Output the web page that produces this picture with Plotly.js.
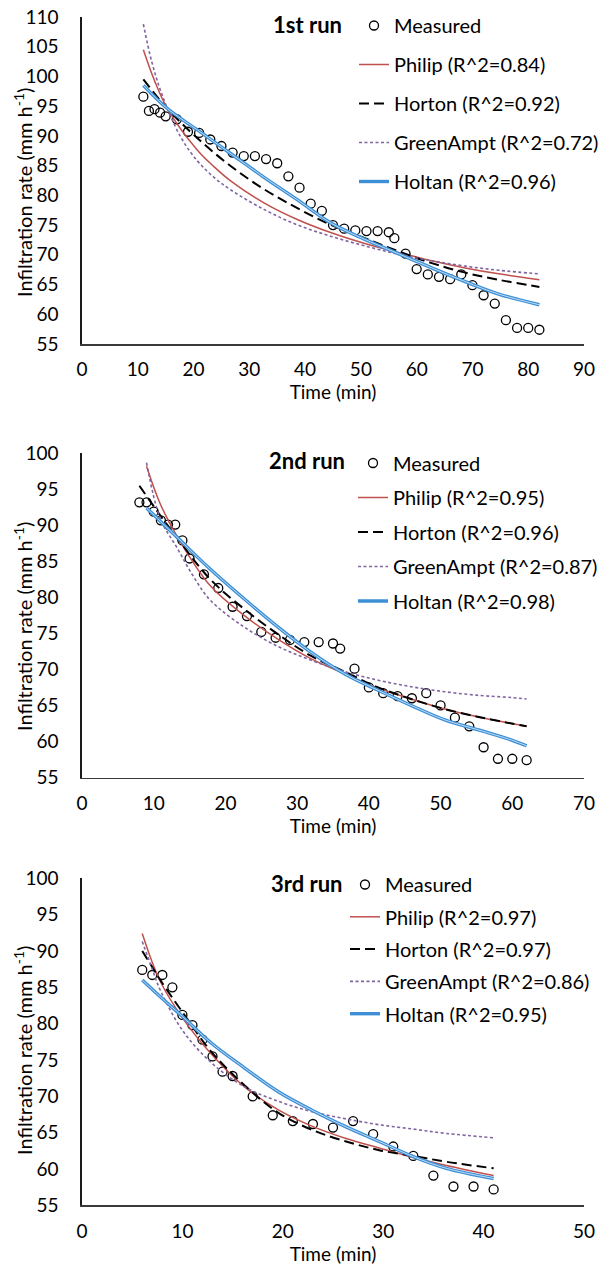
<!DOCTYPE html>
<html>
<head>
<meta charset="utf-8">
<script src="https://cdn.plot.ly/plotly-3.0.1.min.js"></script>
<style>
  html, body { margin: 0; padding: 0; background: #ffffff; }
  #chart { width: 605px; height: 1270px; }
</style>
</head>
<body>
<div id="chart"></div>
<script>
// ---------------- data ----------------
// Run 1
var time1 = [11,12,13,14,15,17,19,21,23,25,27,29,31,33,35,37,39,41,43,45,47,49,51,53,55,56,58,60,62,64,66,68,70,72,74,76,78,80,82];
var measured1 = [96.6,94.2,94.5,93.9,93.3,92.8,90.7,90.5,89.4,88.3,87.2,86.6,86.6,86.1,85.4,83.2,81.3,78.6,77.4,75.0,74.4,74.1,74.0,74.0,73.8,72.8,70.2,67.6,66.7,66.3,65.9,66.7,64.9,63.2,61.8,59.0,57.7,57.7,57.4];
var philipT1 = [11,13,15.3,20.7,23.7,26.7,32.7,38.7,44.7,50.7,56.7,62.7,68.7,74.7,82];
var philip1 = [104.5,99.3,94.6,87.6,84.8,82.4,78.7,75.9,73.7,71.9,70.4,69.0,67.8,66.8,65.8];
var hortonT1 = [11,15.3,20.7,26.7,32.7,38.7,44.7,50.7,56.7,62.7,68.7,74.7,82];
var horton1 = [99.5,94.6,89.6,84.9,81.0,77.8,75.0,72.8,70.6,68.6,67.0,65.8,64.6];
var greenT1 = [11,12.5,14.4,17.7,20.7,23.7,26.7,32.7,38.7,44.7,50.7,56.7,62.7,68.7,74.7,82];
var green1 = [108.8,102.5,96.8,89.8,85.8,83.0,80.9,77.6,75.0,73.1,71.5,70.1,69.0,68.1,67.4,66.8];
var holtanT1 = [11,15.3,20.7,26.7,32.7,38.7,44.7,50.7,56.7,62.7,68.7,74.7,82];
var holtan1 = [98.5,94.6,91.0,87.0,83.0,79.2,75.3,72.6,70.2,67.8,65.5,63.4,61.6];
var r2Run1 = ["0.84","0.92","0.72","0.96"];

// Run 2
var time2 = [8,9,10,11,12,13,14,15,17,19,21,23,25,27,29,31,33,35,36,38,40,42,44,46,48,50,52,54,56,58,60,62];
var measured2 = [93.2,93.2,91.9,90.7,90.1,90.1,87.9,85.4,83.2,81.3,78.7,77.4,75.2,74.4,74.1,73.8,73.8,73.6,72.9,70.1,67.5,66.7,66.3,66.0,66.7,65.0,63.3,62.1,59.2,57.6,57.6,57.4];
var philipT2 = [9,10.9,13.3,17.9,22.6,27.3,31.9,36.6,41.3,45.9,50.6,55.3,59.9,62];
var philip2 = [98.2,93.0,88.4,81.6,77.5,74.2,71.5,69.4,67.4,65.9,64.5,63.4,62.5,62.1];
var hortonT2 = [8,10.9,13.3,17.9,22.6,27.3,31.9,36.6,41.3,45.9,50.6,55.3,59.9,62];
var horton2 = [95.5,91.4,88.2,82.5,78.4,74.9,71.9,69.7,67.5,65.9,64.5,63.4,62.5,62.1];
var greenT2 = [9,10.9,13.3,15.6,17.9,22.6,27.3,31.9,36.6,41.3,45.9,50.6,55.3,59.9,62];
var green2 = [98.7,91.0,86.8,82.8,79.6,75.9,73.2,71.3,69.7,68.5,67.6,66.9,66.4,66.1,65.9];
var holtanT2 = [9,10.9,13.3,17.9,22.6,27.3,31.9,36.6,41.3,45.9,50.6,55.3,59.9,62];
var holtan2 = [92.4,90.6,88.3,83.9,79.8,75.9,72.4,69.4,67.1,65.0,63.0,61.6,60.2,59.4];
var r2Run2 = ["0.95","0.96","0.87","0.98"];

// Run 3
var time3 = [6,7,8,9,10,11,12,13,14,15,17,19,21,23,25,27,29,31,33,35,37,39,41];
var measured3 = [87.4,86.7,86.7,85.0,81.2,79.8,77.8,75.5,73.4,72.8,70.0,67.4,66.6,66.2,65.7,66.6,64.8,63.1,61.8,59.1,57.6,57.6,57.2];
var philipT3 = [6,6.9,7.8,10,12.9,16.2,19.6,22.9,26.3,29.6,33,36.3,41];
var philip3 = [92.4,88.8,85.8,80.8,75.8,71.3,68.1,65.9,64.2,62.9,61.6,60.5,59.1];
var hortonT3 = [6,6.9,7.8,10,12.9,16.2,19.6,22.9,26.3,29.6,33,36.3,41];
var horton3 = [90.0,88.0,86.0,81.6,76.1,71.5,67.7,65.4,63.8,62.6,61.8,61.0,60.1];
var greenT3 = [6,7,7.8,10,12.9,16.2,19.6,22.9,26.3,29.6,33,36.3,41];
var green3 = [91.3,87.5,84.6,79.1,74.6,71.3,69.3,67.9,66.9,66.1,65.5,64.9,64.3];
var holtanT3 = [6,7.8,10,12.9,16.2,19.6,22.9,26.3,29.6,33,36.3,41];
var holtan3 = [86.0,83.7,81.0,77.3,73.9,70.6,68.1,65.8,63.8,61.7,60.1,58.7];
var r2Run3 = ["0.97","0.97","0.86","0.95"];

var runLabels = ["1st run","2nd run","3rd run"];
var yTitle = "Infiltration rate (mm h<sup>-1</sup>)";
var xTitle = "Time (min)";
var xMax = [90, 70, 50];
var yMin = [55, 55, 55];
var yMax = [110, 100, 100];
var yTicks1 = [55,60,65,70,75,80,85,90,95,100,105,110];
var yTicks23 = [55,60,65,70,75,80,85,90,95,100];

// ---------------- layout geometry (pixels) ----------------
var W = 605, H = 1270;
var FONT = "Lato, 'Open Sans', sans-serif";
function fx(px) { return px / W; }
function fy(py) { return 1 - py / H; }
var plotLeft = 82, plotRight = 584;
var panels = [
  { top: 17,    bottom: 344,    legX: 354, legTop: 6,     gap: 10,  labY: 24,  yTitleY: 193 },
  { top: 453.3, bottom: 777.5,  legX: 353, legTop: 443.5, gap: 5.5, labY: 461, yTitleY: 627 },
  { top: 878.3, bottom: 1205.4, legX: 345, legTop: 865,   gap: 3.3, labY: 883, yTitleY: 1051 }
];

var runs = [
  { t: time1, m: measured1, pt: philipT1, p: philip1, ht: hortonT1, h: horton1, gt: greenT1, g: green1, bt: holtanT1, b: holtan1, r2: r2Run1 },
  { t: time2, m: measured2, pt: philipT2, p: philip2, ht: hortonT2, h: horton2, gt: greenT2, g: green2, bt: holtanT2, b: holtan2, r2: r2Run2 },
  { t: time3, m: measured3, pt: philipT3, p: philip3, ht: hortonT3, h: horton3, gt: greenT3, g: green3, bt: holtanT3, b: holtan3, r2: r2Run3 }
];

var traces = [];
var layout = {
  width: W, height: H,
  margin: { l: 0, r: 0, t: 0, b: 0 },
  paper_bgcolor: "#ffffff",
  plot_bgcolor: "#ffffff",
  font: { family: FONT, size: 19, color: "#000000" },
  annotations: [],
  showlegend: true
};

runs.forEach(function (r, i) {
  var n = i === 0 ? "" : String(i + 1);
  var xa = "x" + n, ya = "y" + n;
  var leg = i === 0 ? "legend" : "legend" + (i + 1);
  var sp = { type: "scatter", xaxis: xa, yaxis: ya, legend: leg };
  function tr(o) { var t = {}; for (var k in sp) t[k] = sp[k]; for (var k2 in o) t[k2] = o[k2]; return t; }

  traces.push(tr({ x: r.t, y: r.m, mode: "markers", name: "Measured", legendgroup: "m" + i,
    marker: { symbol: "circle-open", size: 9, color: "#000000", line: { width: 1.3, color: "#000000" } } }));
  traces.push(tr({ x: r.pt, y: r.p, mode: "lines", name: "Philip (R^2=" + r.r2[0] + ")", legendgroup: "p" + i,
    line: { color: "#C0504D", width: 1.5, shape: "spline", smoothing: 1 } }));
  traces.push(tr({ x: r.ht, y: r.h, mode: "lines", name: "Horton (R^2=" + r.r2[1] + ")", legendgroup: "h" + i,
    line: { color: "#000000", width: 2, dash: "10px,5px", shape: "spline", smoothing: 1 } }));
  traces.push(tr({ x: r.gt, y: r.g, mode: "lines", name: "GreenAmpt (R^2=" + r.r2[2] + ")", legendgroup: "g" + i,
    line: { color: "#8064A2", width: 1.6, dash: "3px,2.5px", shape: "spline", smoothing: 1 } }));
  traces.push(tr({ x: r.bt, y: r.b, mode: "lines", name: "Holtan (R^2=" + r.r2[3] + ")", legendgroup: "b" + i,
    line: { color: "#3D8FD6", width: 3.4, shape: "spline", smoothing: 1 } }));
  traces.push(tr({ x: r.bt, y: r.b, mode: "lines", name: "Holtan inner", legendgroup: "b" + i, showlegend: false, hoverinfo: "skip",
    line: { color: "#BFDDF5", width: 1, shape: "spline", smoothing: 1 } }));

  var P = panels[i];
  layout["xaxis" + n] = {
    domain: [fx(plotLeft), fx(plotRight)],
    anchor: ya,
    range: [0, xMax[i]], dtick: 10, tick0: 0,
    showgrid: false, zeroline: false,
    showline: true, linecolor: "#3a3a3a", linewidth: 1.6,
    ticks: "", ticklabelstandoff: 8,
    tickfont: { family: FONT, size: 19, color: "#000000" },
    title: { text: xTitle, font: { family: FONT, size: 19, color: "#000000" }, standoff: 0 }
  };
  layout["yaxis" + n] = {
    domain: [fy(P.bottom), fy(P.top)],
    anchor: xa,
    range: [yMin[i], yMax[i]],
    tickvals: i === 0 ? yTicks1 : yTicks23,
    showgrid: false, zeroline: false,
    showline: true, linecolor: "#1a1a1a", linewidth: 1.6,
    ticks: "", ticklabelstandoff: 18,
    tickfont: { family: FONT, size: 19, color: "#000000" }
  };
  layout[leg] = {
    x: fx(P.legX), y: fy(P.legTop), xanchor: "left", yanchor: "top",
    bgcolor: "rgba(0,0,0,0)", borderwidth: 0,
    font: { family: FONT, size: 20, color: "#000000" },
    traceorder: "grouped", tracegroupgap: P.gap,
    itemwidth: 30, itemclick: false, itemdoubleclick: false
  };
  layout.annotations.push({
    text: "<b>" + runLabels[i] + "</b>",
    xref: "paper", yref: "paper",
    x: fx(307), y: fy(P.labY), xanchor: "center", yanchor: "middle",
    showarrow: false,
    font: { family: FONT, size: 22, color: "#000000" }
  });
  layout.annotations.push({
    text: yTitle,
    xref: "paper", yref: "paper",
    x: fx(23), y: fy(P.yTitleY), xanchor: "center", yanchor: "middle",
    textangle: -90, showarrow: false,
    font: { family: FONT, size: 20, color: "#000000" }
  });
});

Plotly.newPlot("chart", traces, layout, { displayModeBar: false, staticPlot: true });
</script>
</body>
</html>
